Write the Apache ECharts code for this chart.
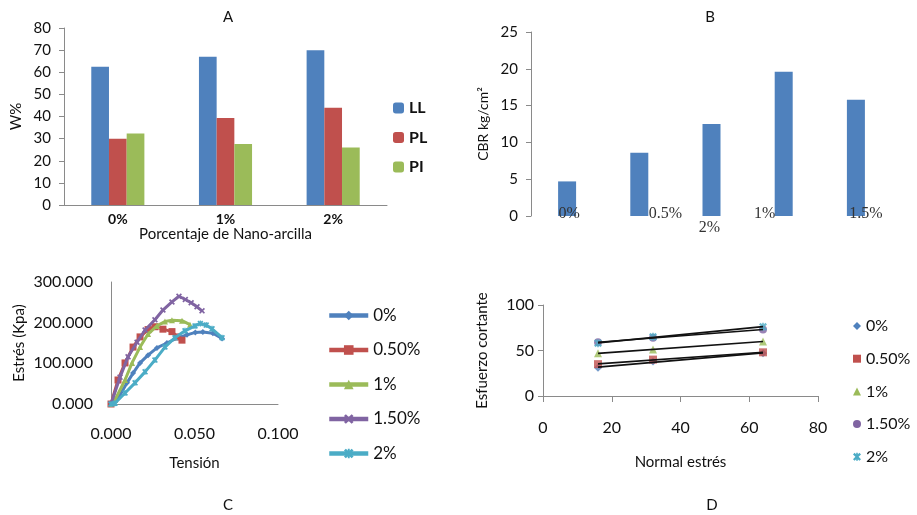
<!DOCTYPE html>
<html><head><meta charset="utf-8">
<script src="https://cdn.jsdelivr.net/npm/echarts@6/dist/echarts.min.js"></script>
<style>html,body{margin:0;padding:0;background:#fff}#c{width:917px;height:515px}</style>
</head><body><div id="c"></div>
<script>
// ---------- Panel A: Atterberg limits ----------
const catA = ['0%', '1%', '2%'];
const LL = [62.5, 67, 70];
const PL = [30, 39.3, 44];
const PI = [32.3, 27.6, 26];

// ---------- Panel B: CBR ----------
const catB = ['0%', '0.5%', '2%', '1%', '1.5%'];
const cbr = [4.7, 8.6, 12.5, 19.6, 15.8];

// ---------- Panel C: stress-strain (Tensión, Estrés kPa) ----------
const namesC = ['0%', '0.50%', '1%', '1.50%', '2%'];
const c0 = [[0,0],[0.0054,22],[0.0096,52],[0.0132,76],[0.0174,101],[0.0222,120],[0.0275,138],[0.0335,150],[0.0401,163],[0.0455,170],[0.0505,176],[0.055,177],[0.061,174],[0.0665,161]];
const c05 = [[0,0],[0.0042,59],[0.0084,101],[0.0132,140],[0.0174,165],[0.0222,183],[0.0263,190],[0.0311,184],[0.0365,178],[0.0395,165],[0.0425,157]];
const c1 = [[0,0],[0.0024,10],[0.0084,59],[0.0126,101],[0.0174,140],[0.0222,172],[0.0275,192],[0.0323,203],[0.0365,206],[0.0425,205],[0.0473,195]];
const c15 = [[0,0],[0.0054,66],[0.0102,116],[0.0156,152],[0.0204,182],[0.0263,207],[0.0311,231],[0.0365,251],[0.0407,265],[0.0445,257],[0.048,249],[0.0515,239],[0.0545,229]];
const c2 = [[0,0],[0.0024,2],[0.0084,27],[0.0144,52],[0.0204,79],[0.0263,108],[0.0323,140],[0.0383,163],[0.0443,180],[0.0503,192],[0.0535,198],[0.057,194],[0.0605,185],[0.0665,163]];

// ---------- Panel D: direct shear ----------
const normalD = [16, 32, 64];
const d0 = [31, 38, 47];
const d05 = [35, 40, 48];
const d1 = [47, 51, 60];
const d15 = [59, 64, 73];
const d2 = [58, 65, 76];

// ---------- styles ----------
const FONT = 'Lato';
const TXT = '#111';
const AX = '#8a8a8a';
const COL = ['#4F81BD', '#C0504D', '#9BBB59', '#8064A2', '#4BACC6'];
const XSYM = 'path://M0,2L2,0L5,3L8,0L10,2L7,5L10,8L8,10L5,7L2,10L0,8L3,5Z';
const STAR = 'path://M0,2L2,0L5,3L8,0L10,2L7,5L10,8L8,10L5,7L2,10L0,8L3,5ZM4,0L6,0L6,10L4,10Z';
const symC = ['diamond', 'rect', 'triangle', XSYM, STAR];
const symSizeC = [6, 7, 6, 6, 6];
const symD = ['diamond', 'rect', 'triangle', 'circle', STAR];
const symSizeD = [8, 8, 8, 8, 8];
// padding used to displace the (misplaced) category labels of panel B
const padB = [[0,0,0,4],[0,0,0,52],[14,4,0,0],[0,38,0,0],[0,0,0,20]];

function trend(xs, ys) {
  const n = xs.length;
  const mx = xs.reduce((a, b) => a + b, 0) / n;
  const my = ys.reduce((a, b) => a + b, 0) / n;
  let sxy = 0, sxx = 0;
  for (let i = 0; i < n; i++) { sxy += (xs[i] - mx) * (ys[i] - my); sxx += (xs[i] - mx) ** 2; }
  const b = sxy / sxx, a = my - b * mx;
  return [[xs[0], a + b * xs[0]], [xs[n - 1], a + b * xs[n - 1]]];
}

const chart = echarts.init(document.getElementById('c'), null, { renderer: 'canvas' });

const dataC = [c0, c05, c1, c15, c2];
const dataD = [d0, d05, d1, d15, d2];

const series = [];
// A
[[LL, 'LL'], [PL, 'PL'], [PI, 'PI']].forEach(([vals, name], i) => {
  series.push({ type: 'bar', name, xAxisIndex: 0, yAxisIndex: 0, data: vals, barWidth: 17.7, barGap: '0%', itemStyle: { color: COL[i] } });
});
// B
series.push({ type: 'bar', name: 'CBR', xAxisIndex: 1, yAxisIndex: 1, data: cbr, barWidth: 18, itemStyle: { color: COL[0] } });
// C
namesC.forEach((name, i) => {
  series.push({ type: 'line', name, xAxisIndex: 2, yAxisIndex: 2, data: dataC[i], symbol: symC[i], symbolSize: symSizeC[i], showAllSymbol: true,
    lineStyle: { width: 3, color: COL[i] }, itemStyle: { color: COL[i] }, z: 2 + i });
});
// D scatter
namesC.forEach((name, i) => {
  series.push({ type: 'scatter', name, xAxisIndex: 3, yAxisIndex: 3, data: normalD.map((x, k) => [x, dataD[i][k]]), symbol: symD[i], symbolSize: symSizeD[i], itemStyle: { color: COL[i] }, z: 2 });
});
// D trend lines
namesC.forEach((name, i) => {
  series.push({ type: 'line', name: 'trend' + i, xAxisIndex: 3, yAxisIndex: 3, data: trend(normalD, dataD[i]), symbol: 'none', silent: true,
    lineStyle: { color: '#111', width: 1.6 }, z: 5 });
});

const nameTS = { fontFamily: FONT, color: TXT, fontSize: 15 };

chart.setOption({
  animation: false,
  backgroundColor: '#fff',
  textStyle: { fontFamily: FONT },
  graphic: [
    { type: 'text', x: 228, y: 17, style: { text: 'A', font: '15px ' + FONT, fill: TXT, align: 'center', verticalAlign: 'middle' } },
    { type: 'text', x: 710, y: 17, style: { text: 'B', font: '15px ' + FONT, fill: TXT, align: 'center', verticalAlign: 'middle' } },
    { type: 'text', x: 228, y: 505, style: { text: 'C', font: '15px ' + FONT, fill: TXT, align: 'center', verticalAlign: 'middle' } },
    { type: 'text', x: 712, y: 505, style: { text: 'D', font: '15px ' + FONT, fill: TXT, align: 'center', verticalAlign: 'middle' } }
  ],
  grid: [
    { left: 64, top: 28, width: 323, height: 177 },
    { left: 531, top: 32, width: 361, height: 184 },
    { left: 111, top: 282, width: 167, height: 122 },
    { left: 543, top: 305, width: 275, height: 91 }
  ],
  legend: [
    { orient: 'vertical', left: 388, top: 95, itemWidth: 11, itemHeight: 11, itemGap: 13.5, data: ['LL', 'PL', 'PI'],
      textStyle: { fontFamily: FONT, fontSize: 16, fontWeight: 'bold', color: TXT } },
    { orient: 'vertical', left: 322, top: 302, itemWidth: 39, itemHeight: 12, itemGap: 17.5, data: namesC,
      lineStyle: { width: 4.5 }, textStyle: { fontFamily: FONT, fontSize: 17, color: TXT } },
    { orient: 'vertical', left: 848, top: 313, itemWidth: 8, itemHeight: 8, itemGap: 16.7,
      data: namesC.map((n, i) => ({ name: n, icon: symD[i] })),
      textStyle: { fontFamily: FONT, fontSize: 16, color: TXT } }
  ],
  xAxis: [
    { gridIndex: 0, type: 'category', data: catA, axisLine: { lineStyle: { color: AX } }, axisTick: { show: false },
      axisLabel: { fontFamily: FONT, fontSize: 14, fontWeight: 'bold', color: TXT, margin: 7 },
      name: 'Porcentaje de Nano-arcilla', nameLocation: 'middle', nameGap: 22, nameTextStyle: nameTS },
    { gridIndex: 1, type: 'category', z: 10, data: catB.map((v, i) => ({ value: v, textStyle: { padding: padB[i] } })),
      axisLine: { show: false }, axisTick: { show: false },
      axisLabel: { interval: 0, fontFamily: 'Liberation Serif', fontSize: 16, color: '#333', margin: -10 } },
    { gridIndex: 2, type: 'value', min: 0, max: 0.1, interval: 0.05, splitLine: { show: false },
      axisLine: { show: true, lineStyle: { color: AX } }, axisTick: { show: false },
      axisLabel: { fontFamily: FONT, fontSize: 16, color: TXT, margin: 22, formatter: v => v.toFixed(3) },
      name: 'Tensión', nameLocation: 'middle', nameGap: 52, nameTextStyle: nameTS },
    { gridIndex: 3, type: 'value', min: 0, max: 80, interval: 20, splitLine: { show: false },
      axisLine: { show: true, lineStyle: { color: AX } }, axisTick: { show: true, length: 6, lineStyle: { color: AX } },
      axisLabel: { fontFamily: FONT, fontSize: 16, color: TXT, margin: 24 },
      name: 'Normal estrés', nameLocation: 'middle', nameGap: 59, nameTextStyle: nameTS }
  ],
  yAxis: [
    { gridIndex: 0, type: 'value', min: 0, max: 80, interval: 10, splitLine: { show: false },
      axisLine: { show: true, lineStyle: { color: AX } }, axisTick: { show: true, length: 5, lineStyle: { color: AX } },
      axisLabel: { fontFamily: FONT, fontSize: 15, color: TXT, margin: 13 },
      name: 'W%', nameLocation: 'middle', nameGap: 40, nameTextStyle: nameTS },
    { gridIndex: 1, type: 'value', min: 0, max: 25, interval: 5, splitLine: { show: false },
      axisLine: { show: true, lineStyle: { color: AX } }, axisTick: { show: true, length: 5, lineStyle: { color: AX } },
      axisLabel: { fontFamily: FONT, fontSize: 15, color: TXT, margin: 13 },
      name: 'CBR kg/cm²', nameLocation: 'middle', nameGap: 41, nameTextStyle: { fontFamily: FONT, color: TXT, fontSize: 14 } },
    { gridIndex: 2, type: 'value', min: 0, max: 300, interval: 100, splitLine: { show: false },
      axisLine: { show: true, lineStyle: { color: AX } }, axisTick: { show: false },
      axisLabel: { fontFamily: FONT, fontSize: 16, color: TXT, margin: 18, formatter: v => v.toFixed(3) },
      name: 'Estrés (Kpa)', nameLocation: 'middle', nameGap: 84, nameTextStyle: nameTS },
    { gridIndex: 3, type: 'value', min: 0, max: 100, interval: 50, splitLine: { show: false },
      axisLine: { show: true, lineStyle: { color: AX } }, axisTick: { show: true, length: 5, lineStyle: { color: AX } },
      axisLabel: { fontFamily: FONT, fontSize: 16, color: TXT, margin: 9 },
      name: 'Esfuerzo cortante', nameLocation: 'middle', nameGap: 53, nameTextStyle: nameTS }
  ],
  series
});
</script></body></html>
